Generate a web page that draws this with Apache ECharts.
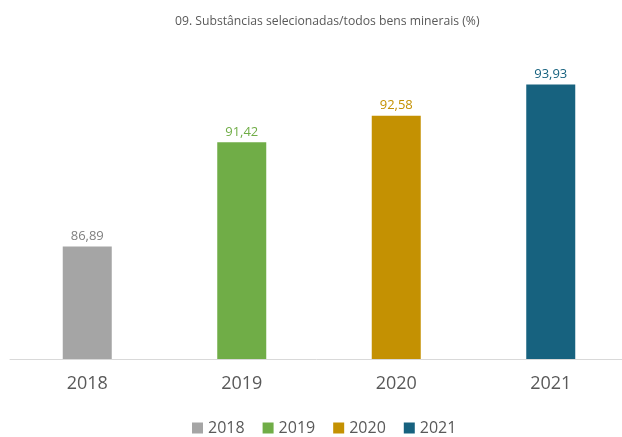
<!DOCTYPE html>
<html>
<head>
<meta charset="utf-8">
<script src="https://cdn.jsdelivr.net/npm/echarts@6/dist/echarts.min.js"></script>
<style>
  html, body { margin: 0; padding: 0; background: #fff; }
  #main { width: 622px; height: 437px; }
</style>
</head>
<body>
<div id="main"></div>
<script>
// dados
var categories = ['2018', '2019', '2020', '2021'];
var values = [86.89, 91.42, 92.58, 93.93];
var colors = ['#A5A5A5', '#70AD47', '#C49102', '#17627F'];
var labelColors = ['#7F7F7F', '#70AD47', '#C49102', '#17627F'];

var font = '"Open Sans", "Noto Sans", sans-serif';

// uma série por ano, para a legenda
var series = categories.map(function (name, i) {
  return {
    name: name,
    type: 'bar',
    stack: 'total',
    barWidth: 49,
    itemStyle: { color: colors[i] },
    label: {
      show: true,
      position: 'top',
      distance: 4,
      color: labelColors[i],
      fontSize: 13,
      fontFamily: font,
      formatter: function (p) { return p.value.toFixed(2).replace('.', ','); }
    },
    data: categories.map(function (c, j) { return j === i ? values[i] : '-'; })
  };
});

var myChart = echarts.init(document.getElementById('main'));
myChart.setOption({
  animation: false,
  title: {
    text: '09. Substâncias selecionadas/todos bens minerais (%)',
    left: 170,
    top: 11,
    textStyle: { fontSize: 12.2, fontWeight: 'normal', color: '#595959', fontFamily: font }
  },
  legend: {
    top: 415,
    left: 187,
    itemWidth: 11,
    itemHeight: 11,
    itemGap: 18,
    icon: 'rect',
    textStyle: { fontSize: 16, color: '#595959', fontFamily: font },
    data: categories
  },
  grid: { left: 10, width: 618, top: 37, bottom: 78, outerBoundsMode: 'none' },
  xAxis: {
    type: 'category',
    data: categories,
    axisLine: { lineStyle: { color: '#D9D9D9' } },
    axisTick: { length: 7, lineStyle: { color: '#D9D9D9' } },
    axisLabel: { fontSize: 18, color: '#595959', fontFamily: font, margin: 16 }
  },
  yAxis: {
    type: 'value',
    min: 82,
    max: 96,
    show: false
  },
  series: series
});
</script>
</body>
</html>
